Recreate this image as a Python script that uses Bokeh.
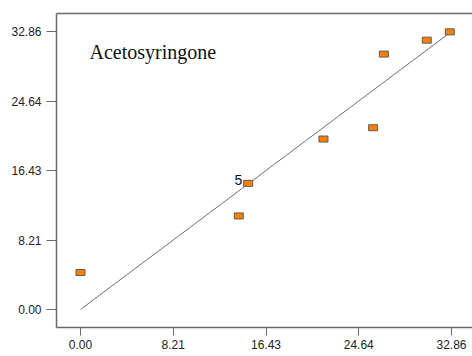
from bokeh.plotting import figure
from bokeh.models import LinearAxis, FixedTicker, Label, Range1d, ColumnDataSource
from bokeh.core.properties import value
from bokeh.embed import file_html
from bokeh.resources import INLINE

# Actual vs predicted values
actual = [0.00, 14.02, 14.85, 21.52, 25.92, 26.87, 30.67, 32.71]
predicted = [4.37, 11.06, 14.91, 20.15, 21.49, 30.19, 31.84, 32.82]
point_labels = ["", "", "5", "", "", "", "", ""]

tick_values = [0.0, 8.215, 16.43, 24.645, 32.86]
tick_labels = ["0.00", "8.21", "16.43", "24.64", "32.86"]
fit_line = [0.0, 32.86]

p = figure(width=472, height=356, output_backend="svg", toolbar_location=None,
           x_range=Range1d(-2.126, 34.72), y_range=Range1d(-2.128, 34.99),
           x_axis_location=None, y_axis_location=None,
           min_border_left=56, min_border_right=0, min_border_top=13,
           min_border_bottom=29)
p.outline_line_color = None
p.xgrid.visible = False
p.ygrid.visible = False
p.background_fill_color = "white"
p.border_fill_color = "white"

axis_color = "#6a6a6a"
label_color = "#222222"
overrides = {v: t for v, t in zip(tick_values, tick_labels)}

xaxis = LinearAxis(ticker=FixedTicker(ticks=tick_values), major_label_overrides=overrides)
yaxis = LinearAxis(ticker=FixedTicker(ticks=tick_values), major_label_overrides=overrides)
for ax in (xaxis, yaxis):
    ax.axis_line_color = axis_color
    ax.axis_line_width = 1.5
    ax.major_tick_line_color = axis_color
    ax.major_tick_line_width = 1
    ax.major_tick_in = 0
    ax.minor_tick_line_color = None
    ax.major_label_text_font = "Liberation Sans"
    ax.major_label_text_font_size = "12px"
    ax.major_label_text_color = label_color
xaxis.major_tick_out = 8
yaxis.major_tick_out = 10
xaxis.major_label_standoff = 4
yaxis.major_label_standoff = 5
p.add_layout(xaxis, "below")
p.add_layout(yaxis, "left")

# plain frame line along the top
top = LinearAxis(ticker=FixedTicker(ticks=[]), major_label_text_font_size="0px")
top.axis_line_color = axis_color
top.axis_line_width = 1.5
top.major_tick_line_color = None
top.minor_tick_line_color = None
p.add_layout(top, "above")

# 45-degree reference line
p.line(fit_line, fit_line, line_color="#6e6e6e", line_width=1)

src = ColumnDataSource(dict(x=actual, y=predicted, lab=point_labels))
p.rect("x", "y", width=9, height=6, width_units="screen", height_units="screen",
       source=src, fill_color="#ff8000", line_color="#5a5a5a", line_width=1)
p.text("x", "y", text="lab", source=src, x_offset=-6, y_offset=-3,
       text_align="right", text_baseline="middle",
       text_font=value("Liberation Sans"), text_font_size="14px",
       text_color="#111111")

p.add_layout(Label(x=0.8, y=30.4, text="Acetosyringone",
                   text_font="Liberation Serif", text_font_size="20px",
                   text_color="#111111", text_baseline="alphabetic"))

open("out.html", "w").write(file_html(p, INLINE))
